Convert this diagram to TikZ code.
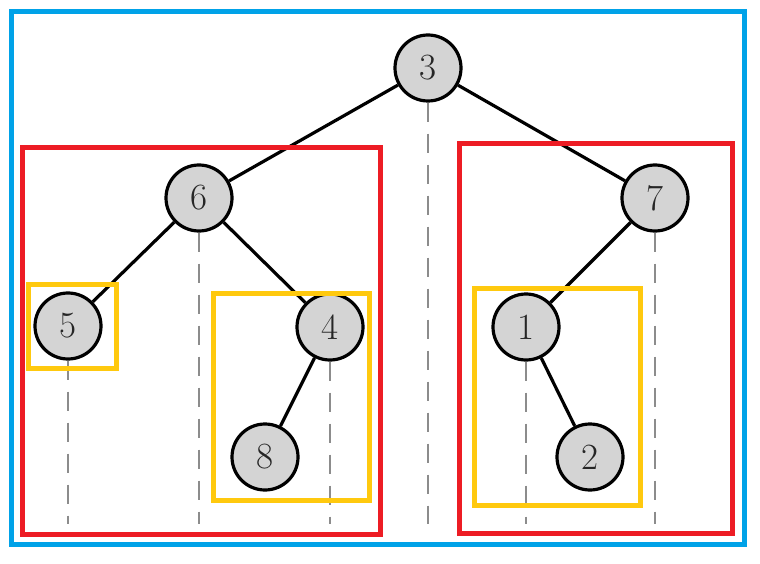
\documentclass[tikz,border=0pt]{standalone}
\usepackage{tikz}
\usetikzlibrary{backgrounds}
\definecolor{frameblue}{HTML}{00A2E8}
\definecolor{framered}{HTML}{ED1C24}
\definecolor{frameyellow}{HTML}{FFC90E}
\begin{document}
\begin{tikzpicture}[x=1pt,y=-1pt,
  treenode/.style={circle,draw=black,line width=3.2pt,fill=black!17,minimum size=66pt,inner sep=0pt,
    font=\fontsize{37}{39}\selectfont,text=black!85},
  treeedge/.style={line width=3.2pt,black},
  guide/.style={line width=2.2pt,black!45,dash pattern=on 19pt off 12pt},
  bluebox/.style={draw=frameblue,line width=5pt},
  redbox/.style={draw=framered,line width=5pt},
  yellowbox/.style={draw=frameyellow,line width=5pt}]
\useasboundingbox (0,0) rectangle (760,564);
% nodes
\node[treenode] (n3) at (428,68) {3};
\node[treenode] (n6) at (199,198) {6};
\node[treenode] (n7) at (655,198) {7};
\node[treenode] (n5) at (68,326) {5};
\node[treenode] (n4) at (330,327) {4};
\node[treenode] (n1) at (526,327) {1};
\node[treenode] (n8) at (265,457) {8};
\node[treenode] (n2) at (590,457) {2};
% guide end points
\coordinate (g5) at (68,524);
\coordinate (g6) at (199,524);
\coordinate (g4) at (330,524);
\coordinate (g3) at (428,524);
\coordinate (g1) at (526,524);
\coordinate (g7) at (655,524);
\begin{scope}[on background layer]
\fill[white] (0,0) rectangle (760,564);
\draw[guide] (n5.south) -- (g5);
\draw[guide] (n6.south) -- (g6);
\draw[guide] (n4.south) -- (g4);
\draw[guide] (n3.south) -- (g3);
\draw[guide] (n1.south) -- (g1);
\draw[guide] (n7.south) -- (g7);
\end{scope}
% edges
\draw[treeedge] (n3) -- (n6);
\draw[treeedge] (n3) -- (n7);
\draw[treeedge] (n6) -- (n5);
\draw[treeedge] (n6) -- (n4);
\draw[treeedge] (n4) -- (n8);
\draw[treeedge] (n7) -- (n1);
\draw[treeedge] (n1) -- (n2);
% frames
\draw[bluebox] (11.5,11.5) rectangle (744,544);
\draw[redbox] (22.5,147.5) rectangle (380,534.5);
\draw[redbox] (459,143.5) rectangle (732.5,533.5);
\draw[yellowbox] (28.5,284) rectangle (116.5,368.5);
\draw[yellowbox] (213,293) rectangle (369.5,500);
\draw[yellowbox] (474,288.5) rectangle (640.5,505);
\end{tikzpicture}
\end{document}
